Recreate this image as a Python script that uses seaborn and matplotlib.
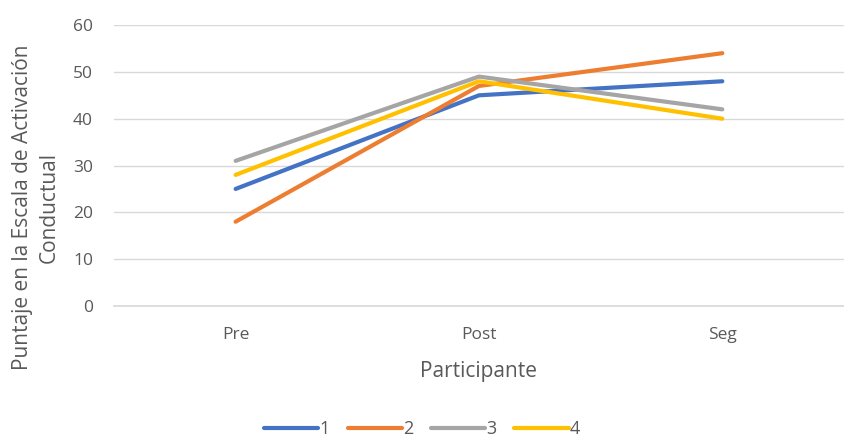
import numpy as np
import pandas as pd
import matplotlib.pyplot as plt
import seaborn as sns

sns.set_theme(style="white")
plt.rcParams["font.family"] = ["Open Sans", "DejaVu Sans"]

# ── Data ────────────────────────────────────────────────────────────────────
momentos = ["Pre", "Post", "Seg"]
p1 = [25, 45, 48]
p2 = [18, 47, 54]
p3 = [31, 49, 42]
p4 = [28, 48, 40]
participantes = ["1", "2", "3", "4"]
colores = ["#4472C4", "#ED7D31", "#A5A5A5", "#FFC000"]

df = pd.DataFrame({
    "Momento": momentos * 4,
    "Puntaje": p1 + p2 + p3 + p4,
    "Participante": np.repeat(participantes, len(momentos)),
})

txt = "#595959"
fig = plt.figure(figsize=(8.44, 4.48), dpi=100)
ax = fig.add_axes([0.135, 0.317, 0.865, 0.627])

sns.lineplot(data=df, x="Momento", y="Puntaje", hue="Participante",
             palette=colores, linewidth=3, sort=False, ax=ax, legend=False)

ax.set_xlim(-0.5, 2.5)
ax.set_ylim(0, 60)
ax.set_yticks(range(0, 61, 10))
ax.yaxis.grid(True, color="#D9D9D9", linewidth=1)
ax.xaxis.grid(False)
for s in ["top", "right", "left"]:
    ax.spines[s].set_visible(False)
ax.spines["bottom"].set_color("#D9D9D9")
ax.tick_params(axis="both", colors=txt, labelsize=12.5, length=0, pad=15)

ax.set_xlabel("Participante", color=txt, fontsize=15, labelpad=13)
ax.set_ylabel("Puntaje en la Escala de Activación\nConductual", color=txt,
              fontsize=15, linespacing=1.35)
ax.yaxis.set_label_coords(-0.074, 0.35)

handles = [plt.Line2D([], [], color=c, linewidth=3) for c in colores]
fig.legend(handles, participantes, loc="lower center", ncol=4, frameon=False,
           bbox_to_anchor=(0.5, -0.015), fontsize=13, handlelength=3.0,
           handletextpad=0.05, columnspacing=1.0, labelcolor=txt)

fig.savefig("out.png", dpi=100)
